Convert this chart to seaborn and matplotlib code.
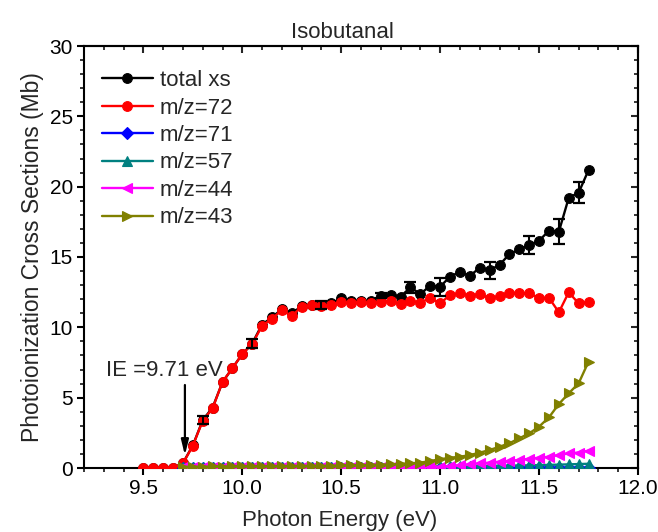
import numpy as np
import pandas as pd
import matplotlib
matplotlib.use("Agg")
import matplotlib.pyplot as plt
import seaborn as sns
from matplotlib.ticker import MultipleLocator

# ---------------- data ----------------
energy = [9.50, 9.55, 9.60, 9.65, 9.70, 9.75, 9.80, 9.85, 9.90, 9.95,
          10.00, 10.05, 10.10, 10.15, 10.20, 10.25, 10.30, 10.35, 10.40, 10.45,
          10.50, 10.55, 10.60, 10.65, 10.70, 10.75, 10.80, 10.85, 10.90, 10.95,
          11.00, 11.05, 11.10, 11.15, 11.20, 11.25, 11.30, 11.35, 11.40, 11.45,
          11.50, 11.55, 11.60, 11.65, 11.70, 11.75]

total_xs = [0.0, 0.0, 0.0, 0.0, 0.35, 1.60, 3.40, 4.30, 6.10, 7.10,
            8.10, 8.85, 10.20, 10.70, 11.30, 11.00, 11.50, 11.60, 11.60, 11.70,
            12.06, 11.85, 11.90, 11.85, 12.25, 12.30, 12.18, 12.84, 12.37, 12.96,
            12.89, 13.60, 13.95, 13.65, 14.24, 14.07, 14.43, 15.21, 15.54, 15.85,
            16.16, 16.87, 16.80, 19.21, 19.57, 21.18]

total_err = [0, 0, 0, 0, 0, 0, 0.30, 0, 0, 0,
             0, 0.30, 0, 0, 0, 0, 0, 0, 0.30, 0,
             0, 0, 0, 0, 0.20, 0, 0, 0.40, 0, 0,
             0.65, 0, 0, 0, 0, 0.60, 0, 0, 0, 0.67,
             0, 0, 0.87, 0, 0.75, 0]

mz72 = [0.0, 0.0, 0.0, 0.0, 0.33, 1.58, 3.36, 4.24, 6.13, 7.09,
        8.10, 8.81, 10.11, 10.61, 11.23, 10.80, 11.47, 11.56, 11.50, 11.58,
        11.82, 11.70, 11.82, 11.70, 11.82, 11.89, 11.66, 11.89, 11.75, 12.10,
        11.70, 12.30, 12.41, 12.25, 12.37, 12.06, 12.22, 12.46, 12.46, 12.41,
        12.10, 12.10, 11.07, 12.49, 11.70, 11.80]

# fragment channels start at 9.70 eV
mz71 = [0.01, 0.01, 0.02, 0.01, 0.01, 0.02, 0.01, 0.01, 0.02, 0.01,
        0.01, 0.02, 0.01, 0.01, 0.02, 0.01, 0.01, 0.02, 0.01, 0.01,
        0.02, 0.01, 0.01, 0.02, 0.01, 0.01, 0.02, 0.02, 0.02, 0.02,
        0.02, 0.02, 0.02, 0.02, 0.03, 0.03, 0.03, 0.03, 0.03, 0.03,
        0.03, 0.03]

mz57 = [0.05, 0.06, 0.05, 0.06, 0.05, 0.06, 0.05, 0.06, 0.05, 0.06,
        0.05, 0.06, 0.05, 0.06, 0.05, 0.06, 0.05, 0.06, 0.06, 0.07,
        0.07, 0.08, 0.08, 0.09, 0.09, 0.10, 0.11, 0.12, 0.12, 0.13,
        0.14, 0.15, 0.16, 0.17, 0.18, 0.19, 0.21, 0.22, 0.24, 0.26,
        0.28, 0.30]

mz44 = [0.05, 0.04, 0.05, 0.04, 0.05, 0.04, 0.05, 0.04, 0.05, 0.04,
        0.05, 0.04, 0.05, 0.04, 0.05, 0.04, 0.05, 0.05, 0.05, 0.05,
        0.05, 0.05, 0.05, 0.06, 0.06, 0.07, 0.09, 0.14, 0.21, 0.26,
        0.33, 0.38, 0.45, 0.50, 0.57, 0.66, 0.73, 0.80, 0.92, 1.04,
        1.10, 1.23]

mz43 = [0.08, 0.10, 0.09, 0.11, 0.10, 0.12, 0.11, 0.13, 0.12, 0.14,
        0.13, 0.15, 0.14, 0.16, 0.15, 0.17, 0.18, 0.19, 0.20, 0.22,
        0.24, 0.26, 0.29, 0.33, 0.38, 0.50, 0.62, 0.73, 0.80, 0.92,
        1.09, 1.28, 1.51, 1.76, 2.11, 2.46, 2.94, 3.60, 4.55, 5.31,
        6.02, 7.56]

series_labels = ["total xs", "m/z=72", "m/z=71", "m/z=57", "m/z=44", "m/z=43"]
x_ticks = [9.5, 10.0, 10.5, 11.0, 11.5, 12.0]
y_ticks = [0, 5, 10, 15, 20, 25, 30]

# ---------------- style ----------------
sns.set_style("ticks")
plt.rcParams["font.family"] = ["Liberation Sans", "DejaVu Sans"]
plt.rcParams["axes.linewidth"] = 1.5

FS = 15

fig = plt.figure(figsize=(6.58, 5.32), dpi=100)
ax = fig.add_axes([84 / 658, 1 - 468 / 532, (638 - 84) / 658, (468 - 46) / 532])

frag_x = energy[4:]
series = [
    (energy, total_xs, "black", "o", 7.0),
    (energy, mz72, "#ff0000", "o", 7.0),
    (frag_x, mz71, "#0000ff", "D", 6.0),
    (frag_x, mz57, "#008080", "^", 7.0),
    (frag_x, mz44, "#ff00ff", "<", 7.0),
    (frag_x, mz43, "#808000", ">", 7.0),
]

for i, ((xs, ys, col, mk, ms), lab) in enumerate(zip(series, series_labels)):
    df = pd.DataFrame({"E": xs, "xs": ys})
    sns.lineplot(data=df, x="E", y="xs", ax=ax, color=col, marker=mk,
                 markersize=ms, markeredgecolor=col, markeredgewidth=0.8,
                 linewidth=1.7, label=lab, zorder=2 + i, legend=False)

# error bars of total cross section
err_df = pd.DataFrame({"E": energy, "xs": total_xs, "err": total_err})
err_df = err_df[err_df["err"] > 0]
ax.errorbar(err_df["E"], err_df["xs"], yerr=err_df["err"], fmt="none",
            ecolor="black", elinewidth=1.5, capsize=4.5, capthick=1.6, zorder=20)

# axes limits / ticks
ax.set_xlim(9.2, 12.0)
ax.set_ylim(0, 30)
ax.set_xticks(x_ticks)
ax.set_yticks(y_ticks)
ax.set_xticklabels([f"{v:.1f}" for v in x_ticks])
ax.xaxis.set_minor_locator(MultipleLocator(0.1))
ax.yaxis.set_minor_locator(MultipleLocator(1))
ax.tick_params(which="major", direction="out", length=5, width=1.5,
               labelsize=FS, colors="black", pad=3)
ax.tick_params(which="minor", direction="out", length=3, width=1.3)

secx = ax.secondary_xaxis("top")
secx.set_xticks(x_ticks)
secx.xaxis.set_minor_locator(MultipleLocator(0.1))
secx.tick_params(which="major", direction="in", length=5, width=1.5, labeltop=False)
secx.tick_params(which="minor", direction="in", length=3, width=1.3)
secx.spines["top"].set_linewidth(1.5)

secy = ax.secondary_yaxis("right")
secy.set_yticks(y_ticks)
secy.yaxis.set_minor_locator(MultipleLocator(1))
secy.tick_params(which="major", direction="in", length=5, width=1.5, labelright=False)
secy.tick_params(which="minor", direction="in", length=3, width=1.3)
secy.spines["right"].set_linewidth(1.5)

for s in ax.spines.values():
    s.set_visible(True)
    s.set_linewidth(1.5)
    s.set_color("black")

ax.set_xlabel("Photon Energy (eV)", fontsize=16, labelpad=1)
ax.xaxis.set_label_coords((340 - 84) / (638 - 84), -0.100)
ax.set_ylabel("Photoionization Cross Sections (Mb)", fontsize=16.5, labelpad=4)
fig.text(342 / 658, 1 - 32 / 532, "Isobutanal", fontsize=16,
         ha="center", va="center")

# IE annotation
ax.text(9.31, 6.9, "IE =9.71 eV", fontsize=16, ha="left", va="center")
ax.annotate("", xy=(9.71, 0.9), xytext=(9.71, 5.9),
            arrowprops=dict(arrowstyle="-|>,head_width=0.22,head_length=0.9",
                            color="black", lw=1.6, shrinkA=0, shrinkB=0))

leg = ax.legend(loc="upper left", bbox_to_anchor=(0.0, 0.985), frameon=False,
                fontsize=16, handlelength=2.3, handletextpad=0.3,
                labelspacing=0.29, borderaxespad=0.4)

fig.savefig("out.png", dpi=100)
